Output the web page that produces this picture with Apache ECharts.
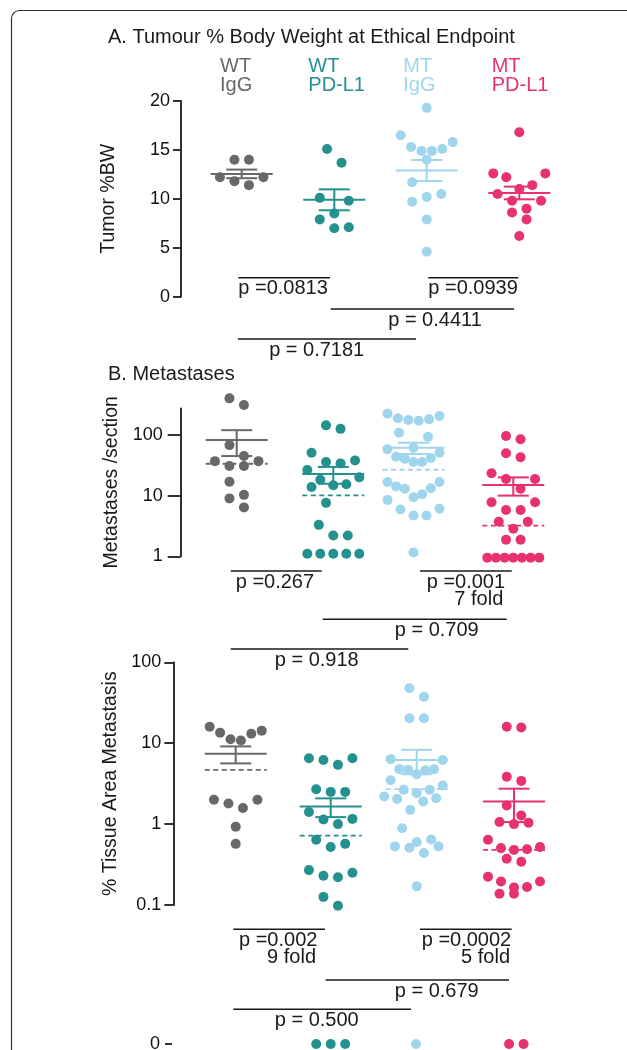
<!DOCTYPE html>
<html>
<head>
<meta charset="utf-8">
<script src="https://cdn.jsdelivr.net/npm/echarts@6/dist/echarts.min.js"></script>
<style>
  html, body { margin: 0; padding: 0; background: #fff; }
  #chart { width: 627px; height: 1050px; }
</style>
</head>
<body>
<div id="chart"></div>
<script>
// groups
const groupTop = ['WT', 'WT', 'MT', 'MT']
const groupBottom = ['IgG', 'PD-L1', 'IgG', 'PD-L1']
const groupColors = ['#686868', '#25918e', '#9fd6ee', '#e8316f']

// A. tumour % body weight
const bwWtIgG = [14.0, 14.0, 12.2, 11.4, 11.8, 12.2]
const bwWtPd = [15.1, 13.7, 10.1, 9.8, 8.5, 7.9, 7.1, 7.0]
const bwMtIgG = [19.3, 16.5, 15.8, 15.3, 15.1, 14.9, 14.9, 14.0, 11.7, 10.5, 10.2, 9.7, 7.9, 4.6]
const bwMtPd = [16.8, 12.6, 12.6, 12.2, 11.4, 11.0, 10.5, 9.8, 9.8, 9.0, 8.6, 7.9, 6.2]
const bwMean = [12.55, 9.9, 12.9, 10.6]
const bwSem = [0.44, 1.07, 1.07, 0.65]

// B. metastases per section
const metWtIgG = [401, 311, 68, 45, 37, 37, 30.7, 30.7, 16.9, 10.3, 9.0, 6.4]
const metWtPd = [144, 126, 51, 38, 35.8, 34, 26.4, 20, 18.3, 15.4, 14.8, 13.9, 7.6, 3.3, 2.2, 2.2, 1.1, 1.1, 1.1, 1.1, 1.1]
const metMtIgG = [224, 205, 188, 181, 176, 171, 109, 93, 61.5, 58, 51, 43.7, 41.6, 40.5, 35.8, 35.8,
  16.8, 16.8, 14.2, 13.2, 13, 10.5, 9.4, 8.5, 6.1, 5.9, 4.7, 4.7, 1.16]
const metMtPd = [96, 84.7, 49.8, 42.8, 23.3, 18.8, 18.8, 13, 7.8, 7.8, 5.8, 5.8, 3.7, 3.7, 2.85, 1.88, 1.88,
  0.95, 0.95, 0.95, 0.95, 0.95, 0.95, 0.95]
const metMean = [82.4, 22.7, 61.5, 15]
const metSem = [37.5, 7, 13, 5]
const metMedian = [33.5, 10.1, 26.7, 3.2]

// C. % tissue area metastasis
const areaWtIgG = [16, 14.3, 13.5, 13.1, 11.2, 10.8, 2.0, 2.0, 1.8, 1.58, 0.93, 0.57]
const areaWtPd = [6.5, 6.5, 6.2, 5.4, 2.7, 2.5, 2.5, 1.41, 1.16, 1.14, 1.0, 0.64, 0.57, 0.52,
  0.27, 0.25, 0.23, 0.22, 0.126, 0.098]
const areaMtIgG = [47.7, 37.6, 20.3, 20.3, 6.35, 6.2, 4.78, 4.78, 4.68, 4.64, 4.14, 3.49, 3.0, 2.65, 2.65,
  2.43, 2.19, 2.09, 2.05, 1.9, 1.5, 0.89, 0.645, 0.6, 0.53, 0.53, 0.51, 0.44, 0.17]
const areaMtPd = [16, 15.6, 3.84, 3.42, 1.7, 1.28, 1.06, 1.04, 1.0, 0.64, 0.52, 0.505, 0.49, 0.48,
  0.373, 0.343, 0.224, 0.195, 0.195, 0.167, 0.165, 0.138, 0.138]
const areaMean = [7.38, 1.65, 6.2, 1.9]
const areaSem = [1.75, 0.43, 2.07, 0.84]
const areaMedian = [4.68, 0.72, 2.7, 0.48]

// D. next panel (only its top row is visible)
const nextWtIgG = []
const nextWtPd = [0, 0, 0]
const nextMtIgG = [0]
const nextMtPd = [0, 0]

// p values
const pTextA = ['p =0.0813', 'p =0.0939', 'p = 0.4411', 'p = 0.7181']
const pTextB = ['p =0.267', 'p =0.001', 'p = 0.709', 'p = 0.918']
const foldB = ['', '7 fold', '', '']
const pTextC = ['p =0.002', 'p =0.0002', 'p = 0.679', 'p = 0.500']
const foldC = ['9 fold', '5 fold', '', '']

// ---- layout ----
const FONT = '"Liberation Sans", Arial, Helvetica, sans-serif'
const INK = '#1a1a1a'
const GRID_W = 400
// left = y axis line, centres = pixel x of each group column
const panels = [
  { left: 181, top: 101, height: 195.7, centres: [241.7, 334.3, 426.7, 519.3] },
  { left: 180.7, top: 408.3, height: 148, centres: [236.7, 333.3, 413.5, 513.3] },
  { left: 173.3, top: 662.3, height: 242.7, centres: [235.7, 330.7, 416.7, 514] },
  { left: 172, top: 1044, height: 200, centres: [236, 330.7, 416, 516.3] }
]
// [x1, x2, y, textX, textAlign, foldRightX]
const bracketsA = [[238.3, 330, 277.7, 238.3, 'left'], [428.3, 518.3, 277.7, 428.3, 'left'],
  [330.7, 514, 309, 435, 'center'], [238, 416, 339, 316.7, 'center']]
const bracketsB = [[230.7, 321.7, 571, 235.7, 'left'], [420, 511.7, 571, 426.7, 'left', 503.3],
  [322.7, 506.7, 619.3, 436.7, 'center'], [230.7, 408.3, 649, 316.7, 'center']]
const bracketsC = [[233.3, 325, 929.3, 239, 'left', 316], [420, 511.7, 929.3, 421.7, 'left', 510],
  [325.7, 509, 980, 436.7, 'center'], [233.3, 411, 1009.3, 316.7, 'center']]

const SYMBOL = 10
const MEAN_HALF = 31
const CAP_HALF = 15.5

const chart = echarts.init(document.getElementById('chart'))

function txt(text, x, y, size, align, color, vAlign) {
  return {
    type: 'text', x: x, y: y, silent: true,
    style: {
      text: text, fill: color || INK, font: size + 'px ' + FONT,
      align: align || 'left', textAlign: align || 'left',
      verticalAlign: vAlign || 'middle', textVerticalAlign: vAlign || 'middle'
    }
  }
}
function hline(x1, x2, y) {
  return { type: 'line', silent: true, shape: { x1: x1, y1: y, x2: x2, y2: y }, style: { stroke: INK, lineWidth: 1.4 } }
}
function bracketGraphics(list, pText, fold) {
  const out = []
  list.forEach((b, i) => {
    out.push(hline(b[0], b[1], b[2]))
    out.push(txt(pText[i], b[3], b[2] + 11, 20, b[4]))
    if (fold && fold[i]) out.push(txt(fold[i], b[5], b[2] + 28.5, 20, 'right'))
  })
  return out
}

const graphics = [
  { type: 'rect', silent: true, shape: { x: 11.5, y: 10.5, width: 700, height: 1100, r: 8 },
    style: { fill: 'none', stroke: '#333', lineWidth: 1.2 } },
  txt('A. Tumour % Body Weight at Ethical Endpoint', 108, 37.5, 20, 'left'),
  txt('B. Metastases', 108, 374, 20, 'left')
]
const labelLeft = [220, 308.3, 403.3, 491.7]
groupTop.forEach((t, i) => {
  graphics.push(txt(t, labelLeft[i], 66.5, 20, 'left', groupColors[i]))
  graphics.push(txt(groupBottom[i], labelLeft[i], 85.5, 20, 'left', groupColors[i]))
})
graphics.push(...bracketGraphics(bracketsA, pTextA))
graphics.push(...bracketGraphics(bracketsB, pTextB, foldB))
graphics.push(...bracketGraphics(bracketsC, pTextC, foldC))

function yAxisBase(i, extra) {
  return Object.assign({
    gridIndex: i,
    axisLine: { show: true, lineStyle: { color: INK, width: 1.8 } },
    axisTick: { show: true, length: 8, lineStyle: { color: INK, width: 1.8 } },
    axisLabel: { color: '#111', fontSize: 18, fontFamily: FONT, margin: 11 },
    splitLine: { show: false },
    nameLocation: 'middle',
    nameTextStyle: { color: INK, fontSize: 19.5, fontFamily: FONT }
  }, extra)
}

const baseOption = {
  animation: false,
  backgroundColor: '#fff',
  graphic: graphics,
  grid: panels.map(p => ({ left: p.left, top: p.top, width: GRID_W, height: p.height })),
  xAxis: panels.map((p, i) => ({ gridIndex: i, type: 'value', min: 0, max: GRID_W, show: false })),
  yAxis: [
    yAxisBase(0, {
      type: 'value', min: 0, max: 20, interval: 5, name: 'Tumor %BW', nameGap: 62
    }),
    yAxisBase(1, {
      type: 'log', logBase: 10, min: 1, max: 275, name: 'Metastases /section', nameGap: 54,
      axisTick: { show: true, length: 13, customValues: [1, 10, 100], lineStyle: { color: INK, width: 1.8 } },
      axisLabel: { color: '#111', fontSize: 18, fontFamily: FONT, margin: 18, customValues: [1, 10, 100] }
    }),
    yAxisBase(2, {
      type: 'log', logBase: 10, min: 0.1, max: 100, name: '% Tissue Area Metastasis', nameGap: 50,
      axisTick: { show: true, length: 9, customValues: [0.1, 1, 10, 100], lineStyle: { color: INK, width: 1.8 } },
      axisLabel: { color: '#111', fontSize: 18, fontFamily: FONT, margin: 12, customValues: [0.1, 1, 10, 100] }
    }),
    yAxisBase(3, {
      type: 'value', min: 0, max: 10, inverse: true,
      axisLine: { show: false },
      axisTick: { show: true, length: 7, customValues: [0], lineStyle: { color: INK, width: 1.8 } },
      axisLabel: { color: '#111', fontSize: 18, fontFamily: FONT, margin: 12, customValues: [0] }
    })
  ],
  series: []
}
chart.setOption(baseOption)

// beeswarm: rows of near-equal values spread symmetrically, outermost slots first
const ROW_H = 16, SPACE = 14.5, MAX_W = 52, MIN_D = 10
function swarm(vals, toY) {
  const pts = vals.map((v, i) => ({ i: i, y: toY(v) })).sort((a, b) => a.y - b.y)
  const offs = new Array(vals.length).fill(0)
  const placed = []
  let k = 0
  while (k < pts.length) {
    let j = k + 1
    while (j < pts.length && j - k < 7 && pts[j].y - pts[k].y < ROW_H) j++
    const row = pts.slice(k, j)
    const n = row.length
    const sp = n > 1 ? Math.min(SPACE, MAX_W / (n - 1)) : SPACE
    const slots = []
    let lo = 0, hi = n - 1, left = true
    while (lo <= hi) {
      slots.push(((left ? lo++ : hi--) - (n - 1) / 2) * sp)
      left = !left
    }
    let best = null
    ;[0, sp / 2, -sp / 2, sp, -sp].forEach(shift => {
      let hits = 0
      row.forEach((p, r) => {
        placed.forEach(q => {
          if (Math.hypot(slots[r] + shift - q.x, p.y - q.y) < MIN_D) hits++
        })
      })
      if (!best || hits < best.hits) best = { shift: shift, hits: hits }
    })
    row.forEach((p, r) => {
      const x = slots[r] + best.shift
      offs[p.i] = x
      placed.push({ x: x, y: p.y })
    })
    k = j
  }
  return offs
}

const panelData = [
  [bwWtIgG, bwWtPd, bwMtIgG, bwMtPd],
  [metWtIgG, metWtPd, metMtIgG, metMtPd],
  [areaWtIgG, areaWtPd, areaMtIgG, areaMtPd],
  [nextWtIgG, nextWtPd, nextMtIgG, nextMtPd]
]
const panelStats = [
  [bwMean, bwSem, null],
  [metMean, metSem, metMedian],
  [areaMean, areaSem, areaMedian]
]

function statsItem(params, api) {
  const cx = api.value(0)
  const m = api.value(1)
  const e = api.value(2)
  const med = api.value(3)
  const mid = api.coord([cx, m])
  const top = api.coord([cx, m + e])
  const bot = api.coord([cx, m - e])
  const col = groupColors[params.dataIndex]
  const st = { stroke: col, lineWidth: 2 }
  const seg = (x1, y1, x2, y2, style) => ({ type: 'line', shape: { x1: x1, y1: y1, x2: x2, y2: y2 }, style: style })
  const kids = [
    seg(mid[0] - MEAN_HALF, mid[1], mid[0] + MEAN_HALF, mid[1], st),
    seg(mid[0], top[1], mid[0], bot[1], st),
    seg(mid[0] - CAP_HALF, top[1], mid[0] + CAP_HALF, top[1], st),
    seg(mid[0] - CAP_HALF, bot[1], mid[0] + CAP_HALF, bot[1], st)
  ]
  if (med > 0) {
    const md = api.coord([cx, med])
    kids.push(seg(md[0] - MEAN_HALF, md[1], md[0] + MEAN_HALF, md[1],
      { stroke: col, lineWidth: 1.8, lineDash: [5, 3.5] }))
  }
  return { type: 'group', children: kids }
}

const series = []
panelData.forEach((groups, p) => {
  const toY = v => chart.convertToPixel({ xAxisIndex: p, yAxisIndex: p }, [0, v])[1]
  groups.forEach((vals, g) => {
    const cx = panels[p].centres[g] - panels[p].left
    const offs = swarm(vals, toY)
    series.push({
      type: 'scatter',
      xAxisIndex: p,
      yAxisIndex: p,
      symbolSize: SYMBOL,
      clip: false,
      silent: true,
      itemStyle: { color: groupColors[g], opacity: 1 },
      data: vals.map((v, i) => [cx + offs[i], v]),
      z: 2
    })
  })
  const st = panelStats[p]
  if (st) {
    series.push({
      type: 'custom',
      xAxisIndex: p,
      yAxisIndex: p,
      silent: true,
      z: 3,
      renderItem: statsItem,
      data: st[0].map((m, g) => [panels[p].centres[g] - panels[p].left, m, st[1][g], st[2] ? st[2][g] : 0])
    })
  }
})
chart.setOption({ series: series })
</script>
</body>
</html>
